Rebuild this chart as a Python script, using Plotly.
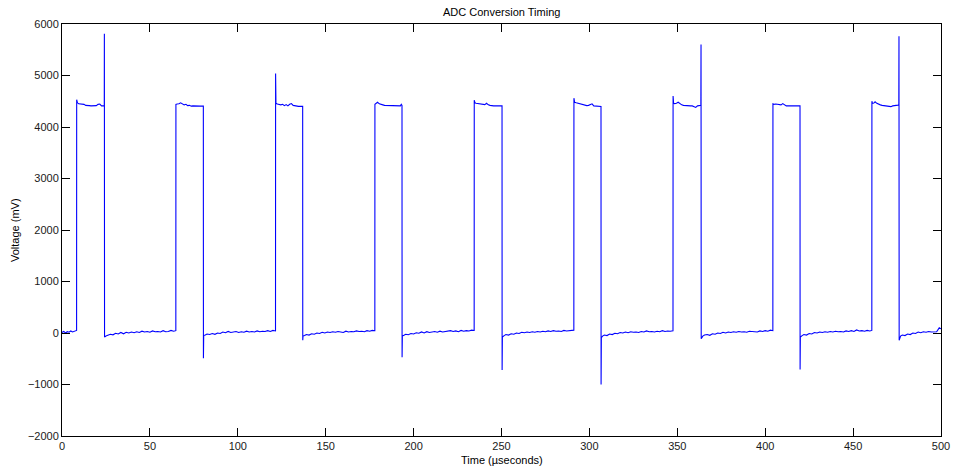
import plotly.graph_objects as go

# Scope capture of the ADC conversion signal, (time in µs, voltage in mV) pairs,
# one list per low interval / conversion pulse.
low_0 = [(0.0, 10), (1.0, 30), (2.0, 0), (3.0, 25), (4.0, 15), (5.0, 40), (6.0, 20),
         (7.0, 35), (8.0, 45), (8.3, 50)]
pulse_1 = [(8.35, 4530), (8.8, 4470), (9.5, 4450), (10.5, 4445), (11.5, 4440), (12.5, 4440),
           (13.5, 4420), (14.5, 4410), (15.5, 4415), (16.5, 4410), (17.5, 4410), (18.5, 4420),
           (19.5, 4415), (20.5, 4440), (21.5, 4445), (22.5, 4410), (23.5, 4410), (24.05, 4410),
           (24.1, 5810), (24.2, -80)]
low_1 = [(25.0, -60), (26.0, -40), (27.5, -25), (29.0, -35), (30.5, -5), (32.0, -20), (33.5, 10),
         (35.0, -15), (36.5, 15), (38.0, 0), (39.5, 20), (41.0, 5), (42.5, 25), (44.0, 10),
         (45.5, 35), (47.0, 20), (48.5, 30), (50.0, 15), (51.5, 40), (53.0, 25), (54.5, 30),
         (56.0, 20), (57.5, 45), (59.0, 25), (60.5, 30), (62.0, 50), (63.5, 35), (64.75, 45)]
pulse_2 = [(64.8, 4440), (65.5, 4445), (66.5, 4450), (67.5, 4470), (68.5, 4455), (69.5, 4430),
           (70.5, 4440), (71.5, 4415), (72.5, 4420), (73.5, 4405), (74.5, 4410), (75.5, 4405),
           (76.5, 4405), (77.5, 4405), (78.5, 4405), (79.5, 4405), (80.4, 4405),
           (80.45, -490), (80.6, -50)]
low_2 = [(81.5, -40), (82.5, -20), (84.0, -30), (85.5, -10), (87.0, -25), (88.5, 0), (90.0, -10),
         (91.5, 20), (93.0, 5), (94.5, 30), (96.0, 10), (97.5, 15), (99.0, 30), (100.5, 10),
         (102.0, 25), (103.5, 15), (105.0, 35), (106.5, 20), (108.0, 30), (109.5, 20),
         (111.0, 40), (112.5, 25), (114.0, 35), (115.5, 30), (117.0, 45), (118.5, 30),
         (120.0, 50), (121.45, 40)]
pulse_3 = [(121.5, 5040), (121.7, 4460), (122.5, 4445), (123.5, 4440), (124.5, 4430), (125.5, 4440),
           (126.5, 4415), (127.5, 4435), (128.5, 4410), (129.5, 4440), (130.5, 4455), (131.5, 4420),
           (132.5, 4410), (133.5, 4405), (134.5, 4400), (135.5, 4400), (136.9, 4400),
           (136.95, -140), (137.1, -60)]
low_3 = [(138.0, -50), (139.0, -30), (140.5, -40), (142.0, -15), (143.5, -25), (145.0, 0),
         (146.5, -10), (148.0, 15), (149.5, 0), (151.0, 20), (152.5, 10), (154.0, 25), (155.5, 15),
         (157.0, 30), (158.5, 20), (160.0, 10), (161.5, 35), (163.0, 20), (164.5, 30), (166.0, 25),
         (167.5, 40), (169.0, 30), (170.5, 35), (172.0, 25), (173.5, 45), (175.0, 35),
         (176.5, 50), (177.95, 45)]
pulse_4 = [(178.0, 4440), (178.8, 4460), (179.5, 4480), (180.5, 4450), (181.5, 4445), (182.5, 4430),
           (183.5, 4420), (184.5, 4420), (185.5, 4410), (186.5, 4410), (187.5, 4410), (188.5, 4410),
           (189.5, 4410), (190.5, 4410), (191.5, 4410), (192.5, 4410), (193.0, 4440), (193.4, 4420),
           (193.45, -470), (193.6, -60)]
low_4 = [(194.5, -45), (195.5, -25), (197.0, -35), (198.5, -10), (200.0, -20), (201.5, 5),
         (203.0, -5), (204.5, 20), (206.0, 0), (207.5, 25), (209.0, 10), (210.5, 20), (212.0, 30),
         (213.5, 15), (215.0, 35), (216.5, 20), (218.0, 30), (219.5, 25), (221.0, 45), (222.5, 30),
         (224.0, 40), (225.5, 25), (227.0, 50), (228.5, 35), (230.0, 45), (231.5, 40),
         (233.0, 55), (234.45, 50)]
pulse_5 = [(234.5, 4520), (234.9, 4470), (235.5, 4460), (236.5, 4455), (237.5, 4450), (238.5, 4440),
           (239.5, 4430), (240.5, 4435), (241.5, 4460), (242.5, 4430), (243.5, 4420), (244.5, 4410),
           (245.5, 4410), (246.5, 4410), (247.5, 4410), (248.5, 4410), (249.5, 4410), (250.3, 4410),
           (250.35, -720), (250.5, -80)]
low_5 = [(251.5, -50), (252.5, -30), (254.0, -40), (255.5, -15), (257.0, -25), (258.5, 0),
         (260.0, -10), (261.5, 15), (263.0, 5), (264.5, 20), (266.0, 10), (267.5, 25), (269.0, 15),
         (270.5, 30), (272.0, 20), (273.5, 35), (275.0, 25), (276.5, 40), (278.0, 30), (279.5, 45),
         (281.0, 35), (282.5, 40), (284.0, 30), (285.5, 50), (287.0, 40), (288.5, 50),
         (290.0, 45), (291.15, 55)]
pulse_6 = [(291.2, 4560), (291.6, 4480), (292.5, 4470), (293.5, 4460), (294.5, 4440), (295.5, 4430),
           (296.5, 4420), (297.5, 4425), (298.5, 4415), (299.5, 4420), (300.5, 4440), (301.5, 4450),
           (302.5, 4410), (303.5, 4405), (304.5, 4400), (305.5, 4400), (306.6, 4400),
           (306.65, -1000), (306.8, -90)]
low_6 = [(307.5, -60), (308.5, -40), (310.0, -50), (311.5, -20), (313.0, -30), (314.5, -5),
         (316.0, -15), (317.5, 10), (319.0, 0), (320.5, 20), (322.0, 5), (323.5, 25), (325.0, 15),
         (326.5, 20), (328.0, 10), (329.5, 30), (331.0, 20), (332.5, 40), (334.0, 25), (335.5, 30),
         (337.0, 20), (338.5, 35), (340.0, 25), (341.5, 45), (343.0, 30), (344.5, 40),
         (346.0, 35), (347.55, 45)]
pulse_7 = [(347.6, 4600), (347.9, 4460), (348.5, 4455), (349.5, 4460), (350.5, 4480), (351.5, 4450),
           (352.5, 4430), (353.5, 4420), (354.5, 4415), (355.5, 4415), (356.5, 4410), (357.5, 4410),
           (358.5, 4410), (359.5, 4400), (360.5, 4380), (361.5, 4410), (362.5, 4410), (363.4, 4420),
           (363.5, 5600), (363.6, -110)]
low_7 = [(364.5, -60), (365.5, -40), (367.0, -30), (368.5, -45), (370.0, -15), (371.5, -25),
         (373.0, 0), (374.5, -10), (376.0, 15), (377.5, 0), (379.0, 20), (380.5, 10), (382.0, 25),
         (383.5, 15), (385.0, 30), (386.5, 20), (388.0, 25), (389.5, 15), (391.0, 35), (392.5, 25),
         (394.0, 30), (395.5, 20), (397.0, 40), (398.5, 30), (400.0, 45), (401.5, 35),
         (403.0, 55), (404.35, 45)]
pulse_8 = [(404.4, 4450), (405.0, 4440), (406.0, 4445), (407.0, 4435), (408.0, 4440), (409.0, 4430),
           (410.0, 4455), (411.0, 4430), (412.0, 4410), (413.0, 4410), (414.0, 4410), (415.0, 4410),
           (416.0, 4410), (417.0, 4410), (418.0, 4410), (419.0, 4410), (419.8, 4410),
           (419.85, -710), (420.0, -80)]
low_8 = [(421.0, -50), (422.0, -30), (423.5, -40), (425.0, -10), (426.5, -20), (428.0, 10),
         (429.5, 0), (431.0, 20), (432.5, 10), (434.0, 25), (435.5, 15), (437.0, 30), (438.5, 20),
         (440.0, 35), (441.5, 25), (443.0, 30), (444.5, 20), (446.0, 40), (447.5, 30), (449.0, 45),
         (450.5, 30), (452.0, 60), (453.5, 40), (455.0, 45), (456.5, 35), (458.0, 50),
         (459.5, 40), (460.65, 50)]
pulse_9 = [(460.7, 4500), (461.0, 4460), (461.8, 4465), (462.5, 4490), (463.5, 4460), (464.5, 4440),
           (465.5, 4430), (466.5, 4420), (467.5, 4415), (468.5, 4410), (469.5, 4410), (470.5, 4410),
           (471.5, 4395), (472.5, 4410), (473.5, 4410), (474.5, 4420), (475.5, 4425), (476.0, 4430),
           (476.1, 5760), (476.2, -140)]
low_9 = [(477.0, -60), (478.0, -40), (479.5, -50), (481.0, -20), (482.5, -30), (484.0, 0),
         (485.5, -10), (487.0, 20), (488.5, 5), (490.0, 25), (491.5, 15), (493.0, 30),
         (494.5, 20), (496.0, 30), (497.5, 25), (499.0, 100), (500.0, 80)]

x_ticks = [0, 50, 100, 150, 200, 250, 300, 350, 400, 450, 500]
y_ticks = [-2000, -1000, 0, 1000, 2000, 3000, 4000, 5000, 6000]

trace_segments = [low_0, pulse_1, low_1, pulse_2, low_2, pulse_3, low_3, pulse_4, low_4,
                  pulse_5, low_5, pulse_6, low_6, pulse_7, low_7, pulse_8, low_8, pulse_9, low_9]
samples = [p for seg in trace_segments for p in seg]
time_us = [p[0] for p in samples]
voltage_mv = [p[1] for p in samples]

FONT = "Liberation Sans, Arial, Helvetica, sans-serif"

fig = go.Figure()
fig.add_trace(go.Scatter(x=time_us, y=voltage_mv, mode="lines",
                         line=dict(color="#0000ff", width=1.1), showlegend=False,
                         hoverinfo="x+y"))

axis_common = dict(showline=True, linecolor="black", linewidth=1, mirror="allticks",
                   ticks="inside", ticklen=8, tickwidth=1, tickcolor="black",
                   showgrid=False, zeroline=False, automargin=False,
                   tickfont=dict(family=FONT, size=11, color="#1a1a1a"))

fig.update_layout(
    width=953, height=470,
    margin=dict(l=62, r=12, t=24, b=34),
    paper_bgcolor="white", plot_bgcolor="white",
    font=dict(family=FONT, size=11, color="black"),
    xaxis=dict(range=[0, 500], tickvals=x_ticks, ticktext=[str(v) for v in x_ticks], **axis_common),
    yaxis=dict(range=[-2000, 6000], tickvals=y_ticks,
               ticktext=[str(v).replace("-", "\u2212") for v in y_ticks], **axis_common),
    annotations=[
        dict(text="ADC Conversion Timing", xref="paper", yref="paper", x=0.5, y=1,
             yshift=12, showarrow=False, font=dict(family=FONT, size=11, color="black"),
             xanchor="center", yanchor="middle"),
        dict(text="Time (\u00b5seconds)", xref="paper", yref="paper", x=0.5, y=0,
             yshift=-24, showarrow=False, font=dict(family=FONT, size=11, color="black"),
             xanchor="center", yanchor="middle"),
        dict(text="Voltage (mV)", xref="paper", yref="paper", x=0, y=0.5,
             xshift=-47, showarrow=False, textangle=-90,
             font=dict(family=FONT, size=11, color="black"),
             xanchor="center", yanchor="middle"),
    ],
)

fig.write_html("out.html")
